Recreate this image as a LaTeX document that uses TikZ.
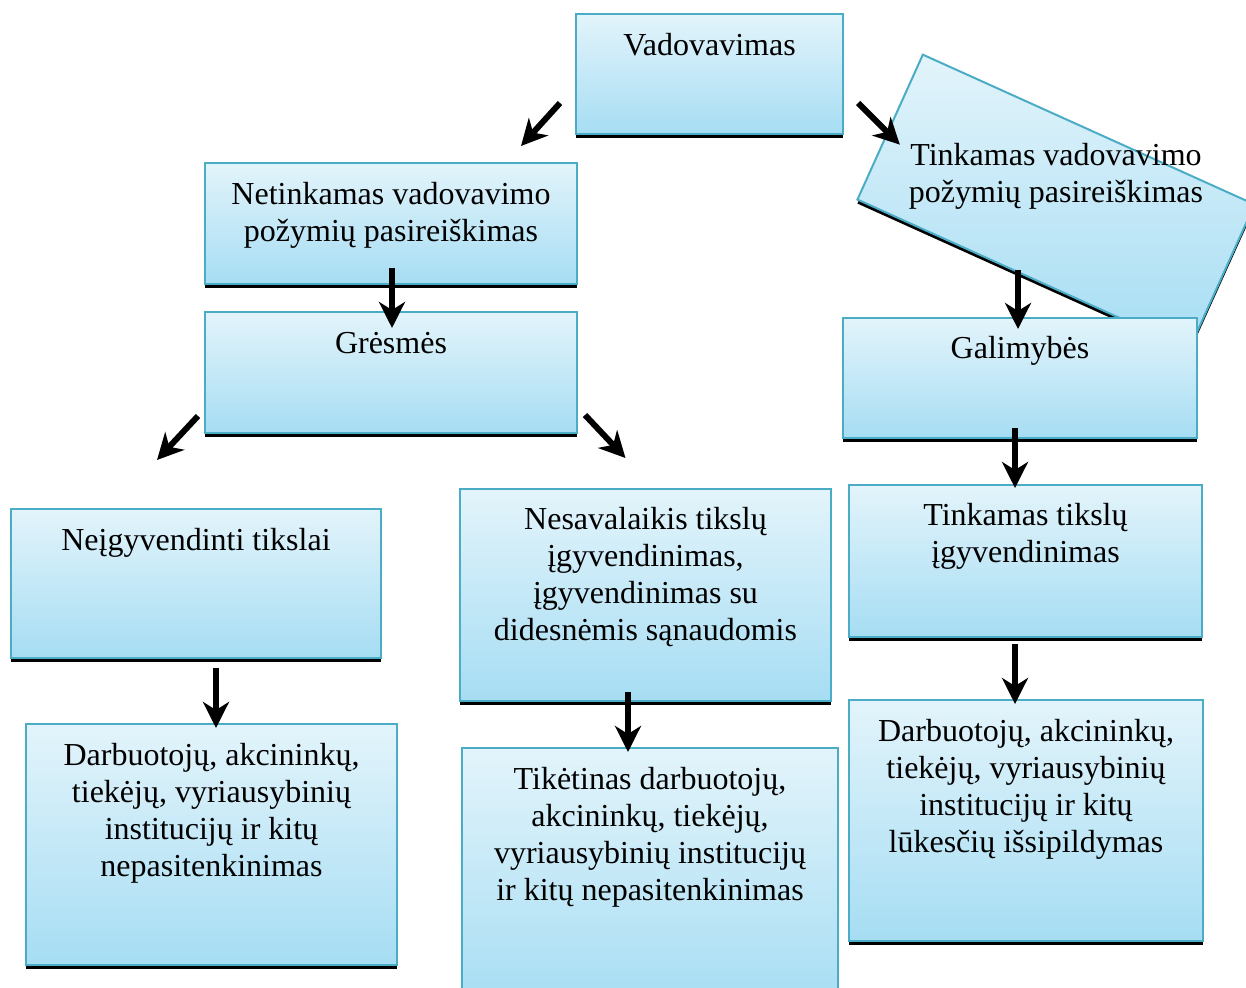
\documentclass[tikz,border=0pt]{standalone}
\usepackage{fontspec}
\setmainfont{Liberation Serif}
\usetikzlibrary{arrows.meta,shadows,calc}
\definecolor{boxtop}{RGB}{227,244,251}
\definecolor{boxbot}{RGB}{166,221,243}
\definecolor{boxline}{RGB}{75,172,198}
\tikzset{
 bx/.style={draw=boxline, line width=2pt, top color=boxtop, bottom color=boxbot,
   inner sep=0pt, outer sep=0pt,
   drop shadow={shadow xshift=0pt, shadow yshift=-4pt, fill=black, opacity=1}},
 txt/.style={anchor=north, align=center, inner sep=0pt, font=\fontsize{32}{37}\selectfont},
 arr/.style={line width=6pt, -{Stealth[length=26pt,width=26pt,inset=8pt]}},
}
\begin{document}
\begin{tikzpicture}[x=1pt,y=-1pt]
\useasboundingbox (0,0) rectangle (1246,987);
\clip (0,0) rectangle (1246,987);
% boxes
\node[bx, anchor=north west, minimum width=267, minimum height=120] (vad) at (576,14) {};
\node[bx, anchor=north west, minimum width=372, minimum height=121] (net) at (205,163) {};
\node[bx, anchor=north west, minimum width=372, minimum height=121] (gre) at (205,312) {};
\node[bx, rotate=-24.3, minimum width=364, minimum height=159] (tin) at (1056,202) {};
\node[bx, anchor=north west, minimum width=354, minimum height=120] (gal) at (843,318) {};
\node[bx, anchor=north west, minimum width=370, minimum height=149] (nei) at (11,509) {};
\node[bx, anchor=north west, minimum width=371, minimum height=212] (nes) at (460,489) {};
\node[bx, anchor=north west, minimum width=353, minimum height=152] (tt) at (849,485) {};
\node[bx, anchor=north west, minimum width=371, minimum height=241] (dl) at (26,724) {};
\node[bx, anchor=north west, minimum width=376, minimum height=260] (tik) at (462,748) {};
\node[bx, anchor=north west, minimum width=354, minimum height=241] (dr) at (849,700) {};
% texts
\node[txt] (vadT) at ($(vad.north)+(0,15)$) {\strut Vadovavimas};
\node[txt] (netT) at ($(net.north)+(0,15)$) {\strut Netinkamas vadovavimo\\požymių pasireiškimas};
\node[txt] (greT) at ($(gre.north)+(0,15)$) {\strut Grėsmės};
\node[txt] (tinT) at (1056,139) {\strut Tinkamas vadovavimo\\požymių pasireiškimas};
\node[txt] (galT) at ($(gal.north)+(0,14)$) {\strut Galimybės};
\node[txt] (neiT) at ($(nei.north)+(0,15)$) {\strut Neįgyvendinti tikslai};
\node[txt] (nesT) at ($(nes.north)+(0,14)$) {\strut Nesavalaikis tikslų\\įgyvendinimas,\\įgyvendinimas su\\didesnėmis sąnaudomis};
\node[txt] (ttT) at ($(tt.north)+(0,14)$) {\strut Tinkamas tikslų\\įgyvendinimas};
\node[txt] (dlT) at ($(dl.north)+(0,15)$) {\strut Darbuotojų, akcininkų,\\tiekėjų, vyriausybinių\\institucijų ir kitų\\nepasitenkinimas};
\node[txt] (tikT) at ($(tik.north)+(0,15)$) {\strut Tikėtinas darbuotojų,\\akcininkų, tiekėjų,\\vyriausybinių institucijų\\ir kitų nepasitenkinimas};
\node[txt] (drT) at ($(dr.north)+(0,15)$) {\strut Darbuotojų, akcininkų,\\tiekėjų, vyriausybinių\\institucijų ir kitų\\lūkesčių išsipildymas};
% arrows
\draw[arr] ($(vad.south west)+(-16,-31)$) -- ($(net.north east)+(-56,-17)$);
\draw[arr] ($(vad.south east)+(15,-31)$) -- ($(tin.north west)+(-23,90)$);
\draw[arr] ($(net.south)+(1,-16)$) -- ($(gre.north)+(1,16)$);
\draw[arr] ($(gre.south west)+(-7,-17)$) -- ($(nei.north)+(-39,-49)$);
\draw[arr] ($(gre.south east)+(8,-18)$) -- ($(nes.north)+(-20,-31)$);
\draw[arr] ($(tin.center)+(-38,68)$) -- ($(gal.north)+(-2,11)$);
\draw[arr] ($(gal.south)+(-5,-10)$) -- ($(tt.north)+(-10.5,3)$);
\draw[arr] ($(nei.south)+(20,10)$) -- ($(dl.north)+(4.5,4)$);
\draw[arr] ($(nes.south)+(-17.5,-9)$) -- ($(tik.north)+(-22,4)$);
\draw[arr] ($(tt.south)+(-10.5,7)$) -- ($(dr.north)+(-11,4)$);
\end{tikzpicture}
\end{document}
